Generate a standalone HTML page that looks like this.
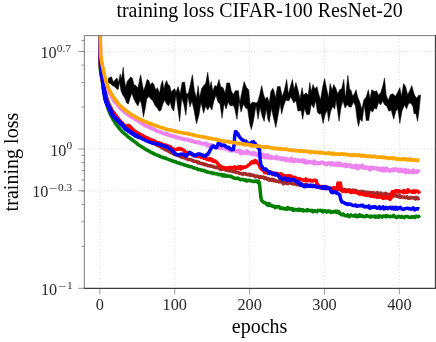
<!DOCTYPE html>
<html><head><meta charset="utf-8"><title>training loss</title><style>
html,body{margin:0;padding:0;background:#fff}
#w{position:relative;width:436px;height:342px;overflow:hidden;background:#fff;font-family:"Liberation Serif",serif;color:#2a2a2a}
.t{position:absolute;white-space:nowrap;line-height:1}
.xl{font-size:16.3px;transform:translateX(-50%);top:297px}
.yl{font-size:16.2px}
.yl sup{font-size:11.3px;vertical-align:baseline;position:relative;top:-6.2px;left:0px;margin-left:0.2px}
.yl sup i{font-style:normal;display:inline-block;transform:scaleX(1.3);margin:0 1.7px 0 1.5px;position:relative;top:0.9px}
#txt{position:absolute;left:0;top:0;width:436px;height:342px;will-change:transform;opacity:0.999}
</style></head><body><div id="w"><svg width="436" height="342" viewBox="0 0 436 342" style="position:absolute;left:0;top:0">
<defs><clipPath id="c"><rect x="84.3" y="35.6" width="351.09999999999997" height="252.79999999999998"/></clipPath></defs>
<path d="M99.90,35.6 V288.4 M174.77,35.6 V288.4 M249.64,35.6 V288.4 M324.51,35.6 V288.4 M399.38,35.6 V288.4 M84.3,51.49 H435.4 M84.3,149.00 H435.4 M84.3,190.79 H435.4" stroke="#c4c4c4" stroke-width="0.8" stroke-dasharray="0.8 2.53" fill="none"/>
<path d="M99.90,288.4 v6 M174.77,288.4 v6 M249.64,288.4 v6 M324.51,288.4 v6 M399.38,288.4 v6 M84.3,51.49 h-6 M84.3,149.00 h-6 M84.3,190.79 h-6 M84.3,288.30 h-6 M84.3,40.60 h-3 M84.3,51.63 h-3 M84.3,65.13 h-3 M84.3,82.54 h-3 M84.3,107.07 h-3 M84.3,155.37 h-3 M84.3,162.50 h-3 M84.3,170.58 h-3 M84.3,179.90 h-3 M84.3,190.93 h-3 M84.3,204.43 h-3 M84.3,221.84 h-3 M84.3,246.37 h-3" stroke="#808080" stroke-width="0.8" fill="none"/>
<g clip-path="url(#c)" fill="none" stroke-linejoin="round">
<path d="M108.28,78.42 L109.92,77.40 L111.35,76.78 L113.40,81.88 L115.44,79.44 L117.08,78.01 L118.51,82.74 L120.15,73.92 L121.58,78.65 L123.22,67.16 L124.24,78.42 L125.68,87.20 L127.11,81.49 L128.75,79.44 L130.79,76.78 L132.43,78.42 L133.86,84.56 L135.91,85.58 L137.96,88.02 L139.39,80.47 L140.62,74.74 L142.05,82.51 L143.48,90.68 L145.12,86.61 L147.17,79.44 L148.80,80.47 L150.24,84.95 L152.28,82.51 L153.92,84.56 L155.76,90.07 L157.40,87.63 L159.45,93.34 L161.08,84.56 L162.52,80.47 L163.95,89.25 L165.18,83.54 L166.61,80.47 L168.04,84.56 L169.68,85.58 L171.32,92.11 L173.36,89.68 L174.80,88.65 L176.00,92.41 L178.05,86.61 L180.09,93.96 L182.14,82.51 L184.60,82.10 L186.23,93.77 L188.28,93.55 L190.33,84.56 L192.37,74.74 L194.42,90.70 L196.47,98.05 L198.10,85.58 L199.54,97.64 L201.58,88.65 L203.63,85.58 L205.68,83.54 L207.72,72.28 L209.77,87.20 L211.20,81.49 L212.84,91.30 L214.89,85.58 L216.93,86.38 L218.98,79.44 L220.62,86.61 L223.07,87.63 L225.12,93.34 L226.76,82.92 L229.62,82.92 L231.26,90.70 L233.31,94.77 L235.35,90.70 L238.42,90.70 L239.86,102.35 L241.90,91.72 L244.15,81.49 L246.61,87.63 L248.66,89.68 L250.09,104.39 L252.75,101.96 L256.00,103.05 L257.64,101.96 L259.68,94.79 L261.73,85.58 L263.37,93.77 L265.21,99.28 L267.26,96.84 L269.30,102.55 L270.74,91.72 L272.78,88.24 L274.01,90.70 L275.44,98.05 L277.49,86.61 L280.15,86.61 L282.20,96.41 L284.24,90.70 L286.70,79.44 L288.34,93.96 L290.38,86.61 L292.43,79.44 L294.07,89.86 L295.91,82.51 L297.96,89.68 L300.00,98.66 L302.05,87.63 L303.48,95.18 L306.14,92.75 L308.19,95.18 L309.83,82.51 L311.26,91.91 L312.90,84.56 L314.94,89.04 L316.99,86.61 L318.42,92.75 L320.47,100.10 L322.52,87.63 L324.56,78.42 L326.61,88.65 L328.66,97.64 L330.09,83.54 L332.14,90.27 L333.77,84.56 L336.00,88.65 L337.64,93.75 L339.68,89.68 L341.73,88.65 L343.78,79.44 L345.41,98.25 L347.87,75.35 L349.51,88.65 L351.15,90.70 L352.78,96.21 L354.42,93.77 L356.06,89.68 L357.69,96.84 L359.74,101.96 L361.79,109.31 L363.83,99.91 L366.29,96.84 L368.34,89.68 L369.97,98.66 L371.82,89.68 L374.48,91.50 L376.52,90.70 L378.57,95.18 L380.62,92.75 L382.66,86.61 L384.51,78.01 L386.14,94.79 L388.19,100.51 L390.24,94.79 L392.90,93.77 L395.35,96.21 L397.40,92.75 L399.86,87.63 L401.49,96.62 L403.54,83.54 L405.59,86.61 L407.63,94.77 L409.68,90.70 L411.73,85.58 L413.77,92.75 L414.89,95.82 L416.93,98.25 L418.57,95.20 L420.62,95.20 L420.00,100.93 L418.98,111.17 L417.55,121.40 L415.91,113.44 L414.27,113.44 L414.18,114.24 L412.75,106.05 L410.70,103.20 L408.66,103.20 L406.61,109.12 L404.56,105.05 L401.90,111.17 L399.86,123.45 L397.81,108.73 L395.76,111.17 L393.72,119.35 L391.26,110.37 L388.80,111.17 L386.76,106.05 L384.71,105.03 L382.66,100.95 L380.62,105.03 L378.57,102.59 L376.52,109.12 L374.48,108.32 L372.43,112.19 L370.38,109.75 L368.75,120.38 L366.29,120.38 L364.24,104.84 L362.20,121.40 L360.15,118.96 L358.51,126.52 L357.08,119.35 L355.44,106.05 L353.40,101.98 L351.35,107.07 L349.30,107.07 L347.26,104.64 L345.01,108.10 L342.96,100.75 L340.91,108.10 L339.07,121.40 L337.64,111.17 L336.00,100.13 L334.80,109.12 L332.75,106.68 L330.70,111.17 L328.66,121.40 L327.22,110.16 L325.18,114.24 L323.13,123.45 L321.08,113.44 L319.45,114.24 L317.40,112.19 L315.76,100.75 L313.72,108.10 L311.26,104.02 L309.62,114.24 L306.76,114.85 L304.71,108.16 L302.66,119.35 L301.03,110.37 L297.96,111.17 L295.91,100.54 L293.86,102.98 L290.79,96.86 L288.75,100.93 L285.68,100.13 L283.63,106.05 L281.58,114.24 L280.15,103.61 L278.10,115.26 L275.85,127.54 L273.40,117.31 L271.35,108.32 L269.30,122.42 L267.87,119.35 L266.23,108.73 L264.19,121.40 L262.14,116.28 L260.09,107.30 L258.05,119.35 L256.00,105.45 L253.36,121.40 L251.32,129.59 L249.68,123.45 L247.63,109.12 L245.59,108.10 L243.54,104.02 L241.08,112.19 L239.04,101.57 L236.99,119.35 L234.33,107.07 L232.28,105.25 L230.24,106.05 L228.19,101.98 L226.14,109.12 L224.10,103.41 L222.05,118.33 L220.00,104.00 L217.96,101.96 L215.91,95.22 L213.86,100.93 L211.82,110.14 L209.77,106.07 L207.72,110.14 L205.68,106.07 L203.63,113.21 L200.97,102.59 L198.92,115.26 L196.47,123.86 L194.01,110.14 L191.96,101.36 L189.92,107.07 L187.87,96.00 L185.82,115.26 L183.78,104.00 L181.73,98.29 L179.68,121.40 L177.64,107.07 L176.00,94.81 L173.77,111.17 L171.73,108.10 L170.09,101.98 L168.66,106.05 L166.61,104.00 L164.56,99.93 L162.52,105.03 L161.08,110.14 L159.04,111.17 L157.40,108.10 L155.35,106.05 L152.90,100.93 L150.85,98.89 L148.80,96.45 L146.76,98.89 L145.12,109.12 L143.48,116.90 L141.44,104.00 L140.00,99.93 L137.96,106.05 L135.91,102.98 L133.86,98.89 L131.82,93.17 L129.77,98.89 L128.34,104.00 L126.70,102.98 L124.65,97.86 L122.61,94.79 L120.97,90.70 L119.54,82.33 L118.10,89.68 L116.47,88.65 L114.42,86.61 L112.37,85.58 L110.33,83.54 L108.28,82.51Z" fill="#000" stroke="#000" stroke-width="0.5" stroke-linejoin="miter"/>
<path d="M99.60,30.20 L100.35,69.56 L101.10,75.16 L101.85,78.90 L102.60,83.81 L103.35,88.52 L104.10,92.74 L104.85,96.57 L105.60,100.00 L106.35,102.82 L107.10,105.34 L107.85,107.94 L108.60,110.07 L109.35,112.09 L110.10,113.66 L110.85,115.22 L111.60,116.70 L112.35,117.98 L113.10,119.59 L113.85,120.61 L114.60,121.79 L115.35,123.03 L116.10,124.31 L116.85,125.22 L117.60,126.10 L118.35,127.12 L119.10,128.21 L119.85,129.03 L120.60,129.83 L121.35,130.71 L122.10,131.59 L122.85,132.46 L123.60,132.79 L124.35,133.53 L125.10,134.15 L125.85,134.61 L126.60,135.41 L127.35,136.03 L128.10,136.90 L128.85,137.37 L129.60,137.80 L130.35,138.65 L131.10,139.12 L131.85,139.54 L132.60,140.24 L133.35,140.80 L134.10,141.32 L134.85,141.97 L135.60,142.26 L136.35,143.02 L137.10,143.72 L137.85,144.25 L138.60,144.83 L139.35,145.37 L140.10,145.93 L140.85,146.15 L141.60,146.85 L142.35,147.02 L143.10,147.64 L143.85,147.95 L144.60,148.74 L145.35,149.22 L146.10,149.49 L146.85,150.14 L147.60,150.29 L148.35,150.80 L149.10,151.21 L149.85,151.47 L150.60,152.04 L151.35,152.62 L152.10,152.62 L152.85,153.24 L153.60,153.47 L154.35,154.08 L155.10,154.26 L155.85,154.64 L156.60,154.97 L157.35,155.25 L158.10,155.35 L158.85,156.07 L159.60,155.98 L160.35,156.53 L161.10,156.89 L161.85,156.97 L162.60,157.41 L163.35,157.86 L164.10,157.94 L164.85,158.07 L165.60,158.00 L166.35,158.58 L167.10,158.90 L167.85,159.17 L168.60,159.35 L169.35,159.84 L170.10,159.93 L170.85,160.27 L171.60,160.68 L172.35,160.65 L173.10,161.01 L173.85,161.74 L174.60,161.75 L175.35,161.59 L176.10,162.08 L176.85,162.46 L177.60,162.85 L178.35,162.89 L179.10,163.00 L179.85,163.21 L180.60,163.75 L181.35,163.93 L182.10,164.00 L182.85,164.31 L183.60,164.51 L184.35,165.01 L185.10,164.93 L185.85,165.44 L186.60,165.77 L187.35,165.92 L188.10,165.85 L188.85,166.60 L189.60,166.36 L190.35,166.86 L191.10,166.80 L191.85,166.79 L192.60,167.51 L193.35,167.75 L194.10,167.90 L194.85,168.22 L195.60,168.21 L196.35,168.42 L197.10,168.80 L197.85,169.57 L198.60,169.51 L199.35,169.38 L200.10,169.90 L200.85,169.84 L201.60,170.07 L202.35,170.65 L203.10,170.48 L203.85,170.37 L204.60,170.80 L205.35,171.29 L206.10,171.50 L206.85,172.03 L207.60,171.66 L208.35,172.28 L209.10,172.38 L209.85,172.40 L210.60,172.88 L211.35,172.96 L212.10,172.72 L212.85,173.48 L213.60,172.93 L214.35,173.49 L215.10,173.63 L215.85,173.91 L216.60,173.69 L217.35,174.06 L218.10,174.17 L218.85,174.68 L219.60,174.23 L220.35,174.66 L221.10,174.69 L221.85,174.48 L222.60,175.96 L223.35,175.17 L224.10,174.83 L224.85,175.97 L225.60,175.26 L226.35,175.91 L227.10,176.24 L227.85,175.86 L228.60,176.10 L229.35,176.22 L230.10,176.54 L230.85,176.18 L231.60,176.50 L232.35,177.10 L233.10,177.76 L233.85,177.85 L234.60,178.50 L235.35,178.37 L236.10,178.16 L236.85,178.55 L237.60,178.04 L238.35,178.66 L239.10,178.82 L239.85,179.48 L240.60,179.76 L241.35,179.40 L242.10,179.50 L242.85,179.22 L243.60,179.88 L244.35,180.12 L245.10,180.29 L245.85,179.87 L246.60,181.09 L247.35,180.85 L248.10,180.40 L248.85,180.31 L249.60,180.49 L250.35,180.78 L251.10,180.79 L251.85,181.07 L252.60,181.24 L253.35,181.54 L254.10,181.50 L254.85,181.01 L255.60,181.29 L256.35,181.04 L257.10,181.06 L257.85,182.32 L258.60,181.46 L259.35,182.80 L260.10,189.45 L260.85,197.05 L261.60,200.47 L262.35,201.10 L263.10,202.01 L263.85,202.25 L264.60,202.59 L265.35,203.15 L266.10,203.32 L266.85,204.69 L267.60,204.19 L268.35,205.33 L269.10,203.60 L269.85,205.05 L270.60,205.52 L271.35,205.35 L272.10,206.18 L272.85,206.17 L273.60,205.94 L274.35,206.43 L275.10,207.67 L275.85,206.67 L276.60,206.85 L277.35,206.66 L278.10,207.06 L278.85,206.56 L279.60,207.18 L280.35,208.51 L281.10,208.01 L281.85,207.95 L282.60,208.28 L283.35,208.76 L284.10,208.30 L284.85,209.08 L285.60,208.74 L286.35,208.44 L287.10,209.25 L287.85,207.51 L288.60,208.42 L289.35,208.89 L290.10,208.46 L290.85,208.89 L291.60,208.76 L292.35,208.84 L293.10,210.44 L293.85,209.58 L294.60,209.36 L295.35,210.05 L296.10,209.43 L296.85,210.01 L297.60,209.84 L298.35,210.48 L299.10,209.18 L299.85,210.22 L300.60,209.99 L301.35,209.48 L302.10,210.53 L302.85,209.71 L303.60,210.88 L304.35,210.43 L305.10,210.56 L305.85,210.33 L306.60,210.74 L307.35,209.53 L308.10,210.45 L308.85,210.17 L309.60,210.62 L310.35,210.51 L311.10,210.85 L311.85,210.24 L312.60,211.48 L313.35,211.73 L314.10,210.63 L314.85,210.75 L315.60,210.92 L316.35,211.39 L317.10,211.71 L317.85,210.35 L318.60,210.65 L319.35,210.49 L320.10,210.50 L320.85,210.31 L321.60,211.26 L322.35,210.62 L323.10,211.86 L323.85,211.64 L324.60,210.82 L325.35,210.87 L326.10,211.11 L326.85,212.07 L327.60,211.11 L328.35,210.88 L329.10,211.58 L329.85,211.82 L330.60,211.41 L331.35,212.48 L332.10,211.90 L332.85,212.04 L333.60,211.49 L334.35,211.89 L335.10,211.88 L335.85,210.98 L336.60,212.19 L337.35,211.33 L338.10,212.21 L338.85,211.67 L339.60,213.59 L340.35,213.41 L341.10,214.31 L341.85,214.92 L342.60,214.28 L343.35,214.00 L344.10,215.01 L344.85,215.68 L345.60,215.41 L346.35,215.81 L347.10,215.96 L347.85,214.93 L348.60,215.79 L349.35,216.60 L350.10,215.50 L350.85,214.88 L351.60,215.73 L352.35,215.66 L353.10,216.09 L353.85,215.54 L354.60,216.01 L355.35,215.00 L356.10,216.41 L356.85,216.77 L357.60,216.66 L358.35,215.42 L359.10,216.27 L359.85,214.81 L360.60,216.30 L361.35,216.17 L362.10,215.77 L362.85,216.39 L363.60,216.31 L364.35,216.69 L365.10,216.34 L365.85,216.41 L366.60,215.44 L367.35,215.81 L368.10,216.13 L368.85,216.49 L369.60,216.37 L370.35,217.06 L371.10,216.00 L371.85,216.30 L372.60,216.53 L373.35,216.32 L374.10,216.66 L374.85,216.19 L375.60,217.10 L376.35,216.32 L377.10,216.98 L377.85,216.47 L378.60,217.16 L379.35,215.87 L380.10,216.74 L380.85,216.32 L381.60,216.62 L382.35,217.06 L383.10,216.02 L383.85,215.94 L384.60,216.10 L385.35,216.67 L386.10,215.71 L386.85,216.61 L387.60,215.99 L388.35,216.07 L389.10,216.42 L389.85,216.77 L390.60,216.33 L391.35,216.39 L392.10,216.61 L392.85,216.51 L393.60,215.44 L394.35,216.46 L395.10,216.70 L395.85,217.16 L396.60,217.60 L397.35,216.99 L398.10,216.73 L398.85,216.27 L399.60,216.76 L400.35,217.08 L401.10,217.31 L401.85,216.35 L402.60,216.86 L403.35,217.13 L404.10,217.61 L404.85,216.90 L405.60,216.55 L406.35,216.50 L407.10,216.66 L407.85,216.53 L408.60,217.21 L409.35,217.33 L410.10,217.18 L410.85,217.41 L411.60,216.68 L412.35,217.06 L413.10,216.73 L413.85,216.93 L414.60,217.47 L415.35,216.92 L416.10,216.10 L416.85,216.84 L417.60,216.65 L418.35,216.30 L419.10,216.63 L419.85,217.43" stroke="#008000" stroke-width="3.5"/>
<path d="M99.70,30.19 L100.45,63.28 L101.20,70.11 L101.95,75.25 L102.70,79.30 L103.45,83.70 L104.20,87.72 L104.95,91.14 L105.70,93.84 L106.45,96.58 L107.20,99.07 L107.95,101.18 L108.70,103.17 L109.45,104.71 L110.20,106.63 L110.95,108.04 L111.70,109.26 L112.45,110.85 L113.20,111.95 L113.95,113.17 L114.70,114.17 L115.45,115.37 L116.20,116.32 L116.95,117.34 L117.70,118.53 L118.45,119.47 L119.20,120.34 L119.95,121.38 L120.70,121.95 L121.45,122.62 L122.20,123.29 L122.95,123.80 L123.70,124.48 L124.45,125.31 L125.20,125.54 L125.95,126.18 L126.70,126.56 L127.45,127.09 L128.20,127.79 L128.95,128.17 L129.70,128.44 L130.45,128.96 L131.20,129.33 L131.95,129.81 L132.70,130.29 L133.45,130.79 L134.20,131.43 L134.95,131.97 L135.70,132.46 L136.45,132.88 L137.20,133.24 L137.95,133.89 L138.70,134.29 L139.45,134.98 L140.20,135.43 L140.95,135.93 L141.70,136.27 L142.45,136.57 L143.20,137.34 L143.95,137.82 L144.70,137.96 L145.45,138.59 L146.20,139.15 L146.95,139.34 L147.70,140.09 L148.45,140.28 L149.20,140.63 L149.95,141.34 L150.70,141.64 L151.45,141.95 L152.20,142.56 L152.95,142.61 L153.70,143.51 L154.45,143.57 L155.20,144.12 L155.95,144.43 L156.70,144.95 L157.45,145.41 L158.20,145.57 L158.95,146.20 L159.70,146.44 L160.45,146.78 L161.20,147.25 L161.95,147.53 L162.70,147.97 L163.45,148.67 L164.20,148.91 L164.95,149.54 L165.70,149.85 L166.45,150.01 L167.20,150.27 L167.95,150.87 L168.70,151.42 L169.45,151.74 L170.20,151.94 L170.95,152.62 L171.70,152.45 L172.45,152.87 L173.20,153.46 L173.95,154.18 L174.70,154.16 L175.45,154.19 L176.20,154.82 L176.95,155.15 L177.70,155.50 L178.45,155.53 L179.20,155.74 L179.95,156.22 L180.70,156.58 L181.45,157.12 L182.20,157.51 L182.95,157.17 L183.70,157.50 L184.45,157.87 L185.20,158.10 L185.95,158.53 L186.70,158.80 L187.45,159.01 L188.20,159.53 L188.95,159.43 L189.70,159.48 L190.45,159.61 L191.20,159.99 L191.95,160.23 L192.70,160.27 L193.45,161.15 L194.20,161.27 L194.95,161.36 L195.70,161.48 L196.45,161.53 L197.20,161.94 L197.95,162.90 L198.70,162.05 L199.45,162.91 L200.20,163.30 L200.95,163.36 L201.70,163.45 L202.45,163.97 L203.20,163.67 L203.95,164.35 L204.70,164.81 L205.45,164.32 L206.20,164.59 L206.95,165.08 L207.70,165.53 L208.45,165.84 L209.20,165.85 L209.95,165.65 L210.70,165.71 L211.45,166.32 L212.20,166.56 L212.95,166.29 L213.70,166.83 L214.45,167.10 L215.20,167.50 L215.95,167.04 L216.70,167.71 L217.45,167.33 L218.20,167.74 L218.95,168.02 L219.70,168.72 L220.45,169.48 L221.20,168.64 L221.95,168.89 L222.70,169.23 L223.45,168.59 L224.20,169.49 L224.95,168.97 L225.70,170.13 L226.45,170.24 L227.20,170.08 L227.95,169.79 L228.70,170.85 L229.45,170.52 L230.20,170.65 L230.95,171.00 L231.70,170.35 L232.45,171.32 L233.20,171.73 L233.95,171.69 L234.70,171.83 L235.45,171.62 L236.20,172.42 L236.95,172.45 L237.70,172.57 L238.45,172.54 L239.20,173.26 L239.95,173.58 L240.70,173.39 L241.45,173.73 L242.20,174.04 L242.95,174.27 L243.70,173.85 L244.45,173.79 L245.20,173.83 L245.95,174.12 L246.70,174.45 L247.45,174.74 L248.20,174.30 L248.95,174.67 L249.70,174.32 L250.45,175.42 L251.20,174.88 L251.95,175.36 L252.70,175.06 L253.45,175.41 L254.20,175.42 L254.95,176.63 L255.70,176.22 L256.45,176.17 L257.20,176.01 L257.95,176.34 L258.70,177.04 L259.45,177.71 L260.20,176.49 L260.95,176.89 L261.70,177.39 L262.45,177.36 L263.20,177.07 L263.95,178.00 L264.70,178.50 L265.45,177.63 L266.20,178.61 L266.95,179.12 L267.70,179.30 L268.45,178.85 L269.20,180.25 L269.95,179.63 L270.70,179.19 L271.45,180.17 L272.20,179.39 L272.95,180.47 L273.70,179.66 L274.45,180.75 L275.20,180.30 L275.95,181.23 L276.70,181.21 L277.45,181.23 L278.20,181.21 L278.95,181.82 L279.70,180.66 L280.45,181.81 L281.20,181.94 L281.95,182.14 L282.70,182.40 L283.45,183.82 L284.20,182.34 L284.95,182.78 L285.70,182.61 L286.45,183.37 L287.20,181.88 L287.95,183.68 L288.70,182.72 L289.45,182.13 L290.20,182.78 L290.95,183.30 L291.70,183.58 L292.45,183.59 L293.20,184.09 L293.95,183.81 L294.70,183.91 L295.45,183.08 L296.20,184.37 L296.95,184.71 L297.70,184.17 L298.45,183.61 L299.20,183.95 L299.95,185.40 L300.70,184.47 L301.45,184.54 L302.20,184.57 L302.95,185.33 L303.70,184.85 L304.45,184.82 L305.20,184.62 L305.95,185.33 L306.70,185.92 L307.45,185.49 L308.20,186.04 L308.95,185.81 L309.70,185.88 L310.45,185.98 L311.20,186.00 L311.95,186.53 L312.70,186.37 L313.45,185.98 L314.20,186.38 L314.95,186.37 L315.70,186.71 L316.45,186.66 L317.20,186.85 L317.95,186.09 L318.70,187.01 L319.45,187.52 L320.20,186.42 L320.95,187.84 L321.70,187.34 L322.45,187.21 L323.20,186.59 L323.95,187.98 L324.70,187.15 L325.45,187.46 L326.20,188.03 L326.95,187.42 L327.70,187.54 L328.45,187.56 L329.20,188.12 L329.95,188.54 L330.70,188.55 L331.45,188.65 L332.20,188.41 L332.95,188.72 L333.70,188.44 L334.45,189.74 L335.20,189.02 L335.95,188.15 L336.70,188.64 L337.45,189.93 L338.20,188.68 L338.95,189.19 L339.70,189.65 L340.45,189.06 L341.20,190.11 L341.95,190.47 L342.70,189.42 L343.45,190.37 L344.20,189.54 L344.95,189.57 L345.70,190.20 L346.45,190.27 L347.20,189.97 L347.95,190.68 L348.70,189.72 L349.45,190.06 L350.20,190.03 L350.95,190.93 L351.70,191.02 L352.45,191.03 L353.20,190.22 L353.95,190.93 L354.70,191.15 L355.45,190.29 L356.20,190.72 L356.95,191.45 L357.70,191.55 L358.45,191.43 L359.20,191.63 L359.95,191.61 L360.70,191.61 L361.45,191.58 L362.20,191.32 L362.95,191.69 L363.70,191.70 L364.45,193.02 L365.20,192.18 L365.95,192.15 L366.70,192.14 L367.45,192.28 L368.20,192.30 L368.95,192.76 L369.70,192.59 L370.45,193.06 L371.20,192.46 L371.95,193.02 L372.70,193.34 L373.45,192.51 L374.20,193.19 L374.95,193.31 L375.70,193.13 L376.45,193.15 L377.20,192.61 L377.95,194.04 L378.70,193.19 L379.45,193.13 L380.20,194.06 L380.95,193.01 L381.70,194.34 L382.45,194.17 L383.20,194.31 L383.95,194.02 L384.70,193.60 L385.45,193.36 L386.20,194.92 L386.95,194.11 L387.70,194.15 L388.45,195.16 L389.20,194.23 L389.95,194.49 L390.70,194.58 L391.45,194.74 L392.20,194.49 L392.95,194.89 L393.70,195.93 L394.45,195.90 L395.20,194.41 L395.95,195.05 L396.70,196.22 L397.45,196.13 L398.20,196.12 L398.95,196.86 L399.70,195.69 L400.45,197.14 L401.20,196.76 L401.95,197.04 L402.70,197.01 L403.45,197.37 L404.20,196.97 L404.95,196.93 L405.70,197.62 L406.45,197.43 L407.20,196.87 L407.95,198.12 L408.70,198.13 L409.45,198.31 L410.20,197.77 L410.95,197.95 L411.70,197.69 L412.45,197.48 L413.20,198.00 L413.95,198.09 L414.70,197.76 L415.45,198.92 L416.20,197.40 L416.95,197.79 L417.70,197.87 L418.45,198.77 L419.20,198.08" stroke="#a52a2a" stroke-width="3.5"/>
<path d="M99.65,29.95 L100.40,67.09 L101.15,73.33 L101.90,77.55 L102.65,82.28 L103.40,86.70 L104.15,90.97 L104.90,94.92 L105.65,99.08 L106.40,101.09 L107.15,103.02 L107.90,105.11 L108.65,106.77 L109.40,108.25 L110.15,109.20 L110.90,110.49 L111.65,111.55 L112.40,111.93 L113.15,112.64 L113.90,113.17 L114.65,114.15 L115.40,115.02 L116.15,115.88 L116.90,116.85 L117.65,117.94 L118.40,118.76 L119.15,119.86 L119.90,120.49 L120.65,121.34 L121.40,122.35 L122.15,123.08 L122.90,124.17 L123.65,125.09 L124.40,125.60 L125.15,125.89 L125.90,126.08 L126.65,126.33 L127.40,125.80 L128.15,125.71 L128.90,125.56 L129.65,125.98 L130.40,127.02 L131.15,127.79 L131.90,128.48 L132.65,129.53 L133.40,129.92 L134.15,130.54 L134.90,130.95 L135.65,131.58 L136.40,132.16 L137.15,132.67 L137.90,132.90 L138.65,133.36 L139.40,133.93 L140.15,134.34 L140.90,134.82 L141.65,135.04 L142.40,135.19 L143.15,136.00 L143.90,136.43 L144.65,136.78 L145.40,137.30 L146.15,137.53 L146.90,137.70 L147.65,138.25 L148.40,138.43 L149.15,138.98 L149.90,139.16 L150.65,139.54 L151.40,139.84 L152.15,140.15 L152.90,140.22 L153.65,140.82 L154.40,140.74 L155.15,141.57 L155.90,141.99 L156.65,142.52 L157.40,142.52 L158.15,142.63 L158.90,142.76 L159.65,143.76 L160.40,143.37 L161.15,144.12 L161.90,143.73 L162.65,144.43 L163.40,144.81 L164.15,144.94 L164.90,145.06 L165.65,145.08 L166.40,145.26 L167.15,145.90 L167.90,146.00 L168.65,146.12 L169.40,146.49 L170.15,146.55 L170.90,147.55 L171.65,148.30 L172.40,148.49 L173.15,149.26 L173.90,149.76 L174.65,149.31 L175.40,149.93 L176.15,149.68 L176.90,149.06 L177.65,149.26 L178.40,149.32 L179.15,148.42 L179.90,148.88 L180.65,148.71 L181.40,148.95 L182.15,149.66 L182.90,149.87 L183.65,150.20 L184.40,150.76 L185.15,151.66 L185.90,152.23 L186.65,152.38 L187.40,152.66 L188.15,153.01 L188.90,153.72 L189.65,153.76 L190.40,153.63 L191.15,154.03 L191.90,154.76 L192.65,154.41 L193.40,154.70 L194.15,155.04 L194.90,154.91 L195.65,155.79 L196.40,154.93 L197.15,156.40 L197.90,155.95 L198.65,155.86 L199.40,156.62 L200.15,156.12 L200.90,157.16 L201.65,157.47 L202.40,157.21 L203.15,157.51 L203.90,158.25 L204.65,157.87 L205.40,158.37 L206.15,158.73 L206.90,159.44 L207.65,158.87 L208.40,159.30 L209.15,159.96 L209.90,158.70 L210.65,159.82 L211.40,159.35 L212.15,159.53 L212.90,161.23 L213.65,160.68 L214.40,161.41 L215.15,160.97 L215.90,161.84 L216.65,162.23 L217.40,163.10 L218.15,164.19 L218.90,165.01 L219.65,166.15 L220.40,165.92 L221.15,166.69 L221.90,166.89 L222.65,167.49 L223.40,167.19 L224.15,168.54 L224.90,167.94 L225.65,168.21 L226.40,168.01 L227.15,168.44 L227.90,168.06 L228.65,167.63 L229.40,167.54 L230.15,167.47 L230.90,167.58 L231.65,167.45 L232.40,167.86 L233.15,168.08 L233.90,167.67 L234.65,166.80 L235.40,168.43 L236.15,168.75 L236.90,167.58 L237.65,167.64 L238.40,166.87 L239.15,168.38 L239.90,167.48 L240.65,168.94 L241.40,166.63 L242.15,167.87 L242.90,168.07 L243.65,167.34 L244.40,166.95 L245.15,167.31 L245.90,166.67 L246.65,166.48 L247.40,166.16 L248.15,165.25 L248.90,164.74 L249.65,164.61 L250.40,163.30 L251.15,162.81 L251.90,161.78 L252.65,162.72 L253.40,161.47 L254.15,162.77 L254.90,160.48 L255.65,161.72 L256.40,161.34 L257.15,162.93 L257.90,163.32 L258.65,163.79 L259.40,165.56 L260.15,167.82 L260.90,168.13 L261.65,169.52 L262.40,169.02 L263.15,169.50 L263.90,171.17 L264.65,172.58 L265.40,171.21 L266.15,172.18 L266.90,171.53 L267.65,173.08 L268.40,172.28 L269.15,172.50 L269.90,171.82 L270.65,172.90 L271.40,173.43 L272.15,174.31 L272.90,172.93 L273.65,174.37 L274.40,173.71 L275.15,173.87 L275.90,173.60 L276.65,173.27 L277.40,173.69 L278.15,175.52 L278.90,173.96 L279.65,174.55 L280.40,175.60 L281.15,173.79 L281.90,175.44 L282.65,174.99 L283.40,175.52 L284.15,176.05 L284.90,175.56 L285.65,175.65 L286.40,176.32 L287.15,176.39 L287.90,175.71 L288.65,176.16 L289.40,175.60 L290.15,177.33 L290.90,175.98 L291.65,176.98 L292.40,178.10 L293.15,177.74 L293.90,177.30 L294.65,177.26 L295.40,177.56 L296.15,178.72 L296.90,178.61 L297.65,178.64 L298.40,180.43 L299.15,178.57 L299.90,178.97 L300.65,179.21 L301.40,179.71 L302.15,179.90 L302.90,179.68 L303.65,180.42 L304.40,180.44 L305.15,180.06 L305.90,178.89 L306.65,180.95 L307.40,180.00 L308.15,180.27 L308.90,180.65 L309.65,180.05 L310.40,180.35 L311.15,180.90 L311.90,180.65 L312.65,181.02 L313.40,180.27 L314.15,180.60 L314.90,180.06 L315.65,180.49 L316.40,180.82 L317.15,184.50 L317.90,184.73 L318.65,185.93 L319.40,186.49 L320.15,187.35 L320.90,186.85 L321.65,186.78 L322.40,186.45 L323.15,188.46 L323.90,186.81 L324.65,186.84 L325.40,187.56 L326.15,186.69 L326.90,188.56 L327.65,188.15 L328.40,188.45 L329.15,187.69 L329.90,188.08 L330.65,189.01 L331.40,189.13 L332.15,190.38 L332.90,189.41 L333.65,187.68 L334.40,188.92 L335.15,188.70 L335.90,189.60 L336.65,188.91 L337.40,187.07 L338.15,183.02 L338.90,183.39 L339.65,184.22 L340.40,183.02 L341.15,188.46 L341.90,189.49 L342.65,191.36 L343.40,190.80 L344.15,190.68 L344.90,190.43 L345.65,191.76 L346.40,191.39 L347.15,191.23 L347.90,191.04 L348.65,191.35 L349.40,191.33 L350.15,191.98 L350.90,192.53 L351.65,190.75 L352.40,191.21 L353.15,192.17 L353.90,192.43 L354.65,191.61 L355.40,192.32 L356.15,192.60 L356.90,192.73 L357.65,192.87 L358.40,193.25 L359.15,193.99 L359.90,194.05 L360.65,194.11 L361.40,194.07 L362.15,193.63 L362.90,193.92 L363.65,194.78 L364.40,194.59 L365.15,195.16 L365.90,194.99 L366.65,195.02 L367.40,195.40 L368.15,194.36 L368.90,195.33 L369.65,195.21 L370.40,196.21 L371.15,195.42 L371.90,196.09 L372.65,195.81 L373.40,196.46 L374.15,196.72 L374.90,196.27 L375.65,196.57 L376.40,196.71 L377.15,197.17 L377.90,196.61 L378.65,196.93 L379.40,196.74 L380.15,196.51 L380.90,197.28 L381.65,197.52 L382.40,196.87 L383.15,198.40 L383.90,197.10 L384.65,198.10 L385.40,197.98 L386.15,196.83 L386.90,197.93 L387.65,197.08 L388.40,198.03 L389.15,198.57 L389.90,199.32 L390.65,198.71 L391.40,197.34 L392.15,191.73 L392.90,192.63 L393.65,191.68 L394.40,192.53 L395.15,190.96 L395.90,191.03 L396.65,190.54 L397.40,191.12 L398.15,192.11 L398.90,190.79 L399.65,191.86 L400.40,191.63 L401.15,191.83 L401.90,191.21 L402.65,191.39 L403.40,192.66 L404.15,190.64 L404.90,191.86 L405.65,192.34 L406.40,191.72 L407.15,192.46 L407.90,189.71 L408.65,191.34 L409.40,190.85 L410.15,191.35 L410.90,191.58 L411.65,191.98 L412.40,191.23 L413.15,192.33 L413.90,190.92 L414.65,192.52 L415.40,191.87 L416.15,191.04 L416.90,191.13 L417.65,191.22 L418.40,191.80 L419.15,192.58 L419.90,193.43" stroke="#ff0000" stroke-width="3.5"/>
<path d="M336.4,182.2 H341.9 V190.5 H336.4 Z" fill="#ff0000" stroke="none"/>
<path d="M99.90,30.12 L100.65,55.91 L101.40,60.98 L102.15,65.71 L102.90,69.23 L103.65,73.17 L104.40,76.59 L105.15,80.24 L105.90,82.15 L106.65,84.95 L107.40,87.43 L108.15,89.04 L108.90,90.79 L109.65,92.93 L110.40,93.88 L111.15,95.46 L111.90,96.96 L112.65,98.57 L113.40,99.85 L114.15,100.81 L114.90,102.24 L115.65,102.75 L116.40,103.66 L117.15,104.44 L117.90,105.53 L118.65,106.15 L119.40,106.91 L120.15,108.10 L120.90,108.83 L121.65,109.56 L122.40,109.90 L123.15,110.63 L123.90,111.43 L124.65,112.06 L125.40,112.64 L126.15,113.26 L126.90,113.98 L127.65,114.23 L128.40,114.98 L129.15,115.37 L129.90,115.84 L130.65,116.35 L131.40,116.99 L132.15,117.37 L132.90,117.63 L133.65,118.27 L134.40,118.68 L135.15,119.18 L135.90,119.52 L136.65,120.21 L137.40,120.58 L138.15,120.81 L138.90,121.29 L139.65,121.77 L140.40,122.58 L141.15,122.86 L141.90,123.38 L142.65,123.85 L143.40,124.50 L144.15,125.08 L144.90,125.07 L145.65,125.83 L146.40,125.96 L147.15,126.46 L147.90,126.57 L148.65,126.76 L149.40,127.43 L150.15,127.94 L150.90,127.75 L151.65,128.38 L152.40,128.78 L153.15,129.20 L153.90,129.19 L154.65,129.63 L155.40,130.27 L156.15,130.79 L156.90,130.74 L157.65,131.25 L158.40,131.38 L159.15,131.74 L159.90,131.85 L160.65,132.18 L161.40,132.38 L162.15,132.83 L162.90,133.36 L163.65,133.41 L164.40,133.81 L165.15,133.74 L165.90,134.36 L166.65,133.59 L167.40,134.30 L168.15,134.83 L168.90,134.66 L169.65,135.55 L170.40,135.67 L171.15,135.57 L171.90,136.07 L172.65,135.81 L173.40,136.19 L174.15,136.54 L174.90,136.36 L175.65,137.36 L176.40,137.03 L177.15,137.74 L177.90,137.56 L178.65,137.88 L179.40,137.67 L180.15,138.04 L180.90,138.18 L181.65,138.58 L182.40,139.14 L183.15,138.65 L183.90,138.97 L184.65,139.32 L185.40,139.68 L186.15,139.51 L186.90,139.59 L187.65,139.69 L188.40,140.09 L189.15,140.36 L189.90,140.19 L190.65,140.52 L191.40,141.11 L192.15,141.00 L192.90,140.98 L193.65,141.67 L194.40,141.87 L195.15,142.03 L195.90,142.25 L196.65,142.01 L197.40,142.45 L198.15,142.69 L198.90,142.81 L199.65,142.21 L200.40,143.13 L201.15,143.48 L201.90,143.74 L202.65,143.59 L203.40,143.92 L204.15,143.30 L204.90,143.62 L205.65,143.14 L206.40,144.55 L207.15,145.57 L207.90,145.81 L208.65,144.67 L209.40,145.66 L210.15,146.12 L210.90,145.56 L211.65,144.93 L212.40,146.71 L213.15,146.02 L213.90,146.16 L214.65,147.35 L215.40,146.90 L216.15,147.24 L216.90,147.78 L217.65,147.06 L218.40,146.79 L219.15,147.84 L219.90,147.59 L220.65,148.13 L221.40,148.10 L222.15,147.64 L222.90,148.20 L223.65,148.16 L224.40,148.35 L225.15,148.60 L225.90,148.96 L226.65,149.03 L227.40,148.36 L228.15,149.55 L228.90,148.55 L229.65,150.73 L230.40,149.20 L231.15,149.74 L231.90,150.68 L232.65,149.95 L233.40,149.47 L234.15,149.51 L234.90,150.64 L235.65,150.86 L236.40,151.24 L237.15,151.04 L237.90,150.73 L238.65,151.43 L239.40,152.15 L240.15,150.93 L240.90,153.74 L241.65,151.43 L242.40,152.59 L243.15,153.13 L243.90,152.66 L244.65,152.41 L245.40,152.82 L246.15,153.35 L246.90,150.95 L247.65,153.07 L248.40,152.66 L249.15,152.61 L249.90,153.28 L250.65,153.47 L251.40,153.84 L252.15,153.28 L252.90,154.58 L253.65,152.58 L254.40,153.49 L255.15,153.48 L255.90,154.54 L256.65,154.29 L257.40,155.15 L258.15,154.40 L258.90,155.99 L259.65,155.76 L260.40,155.02 L261.15,154.34 L261.90,154.82 L262.65,154.71 L263.40,156.80 L264.15,156.59 L264.90,155.30 L265.65,157.64 L266.40,156.24 L267.15,155.00 L267.90,157.47 L268.65,157.75 L269.40,156.96 L270.15,156.45 L270.90,158.07 L271.65,156.97 L272.40,157.43 L273.15,157.89 L273.90,157.89 L274.65,157.47 L275.40,157.17 L276.15,158.54 L276.90,156.58 L277.65,158.47 L278.40,158.54 L279.15,158.82 L279.90,158.30 L280.65,158.82 L281.40,159.33 L282.15,158.14 L282.90,159.01 L283.65,159.34 L284.40,158.29 L285.15,158.61 L285.90,160.48 L286.65,160.20 L287.40,159.05 L288.15,160.17 L288.90,160.04 L289.65,160.83 L290.40,160.74 L291.15,158.33 L291.90,159.91 L292.65,161.18 L293.40,161.45 L294.15,159.96 L294.90,159.61 L295.65,160.74 L296.40,160.20 L297.15,160.72 L297.90,160.00 L298.65,161.44 L299.40,161.39 L300.15,161.39 L300.90,160.38 L301.65,160.05 L302.40,160.41 L303.15,161.74 L303.90,160.21 L304.65,162.01 L305.40,162.87 L306.15,161.26 L306.90,161.65 L307.65,162.54 L308.40,162.57 L309.15,161.57 L309.90,161.96 L310.65,162.24 L311.40,162.04 L312.15,162.70 L312.90,162.60 L313.65,163.36 L314.40,161.31 L315.15,163.41 L315.90,163.22 L316.65,162.62 L317.40,163.07 L318.15,163.53 L318.90,163.12 L319.65,162.80 L320.40,163.24 L321.15,162.61 L321.90,162.24 L322.65,162.60 L323.40,162.73 L324.15,163.46 L324.90,163.94 L325.65,163.61 L326.40,164.51 L327.15,163.48 L327.90,163.15 L328.65,163.15 L329.40,163.09 L330.15,163.57 L330.90,164.81 L331.65,162.88 L332.40,164.36 L333.15,164.03 L333.90,164.70 L334.65,163.85 L335.40,164.76 L336.15,163.98 L336.90,164.84 L337.65,163.10 L338.40,164.89 L339.15,165.14 L339.90,163.58 L340.65,165.36 L341.40,164.05 L342.15,165.61 L342.90,165.00 L343.65,165.56 L344.40,165.42 L345.15,164.39 L345.90,166.40 L346.65,166.24 L347.40,164.76 L348.15,165.95 L348.90,165.96 L349.65,165.24 L350.40,165.07 L351.15,166.77 L351.90,165.68 L352.65,166.68 L353.40,167.46 L354.15,166.55 L354.90,165.68 L355.65,167.08 L356.40,165.52 L357.15,165.94 L357.90,168.72 L358.65,166.20 L359.40,167.10 L360.15,166.20 L360.90,166.95 L361.65,167.27 L362.40,165.37 L363.15,166.85 L363.90,167.87 L364.65,168.10 L365.40,167.82 L366.15,167.01 L366.90,168.03 L367.65,167.50 L368.40,167.39 L369.15,168.01 L369.90,169.69 L370.65,167.54 L371.40,168.98 L372.15,168.50 L372.90,167.36 L373.65,167.84 L374.40,168.43 L375.15,168.29 L375.90,168.88 L376.65,168.07 L377.40,168.13 L378.15,169.61 L378.90,168.96 L379.65,168.45 L380.40,169.12 L381.15,170.47 L381.90,168.85 L382.65,168.28 L383.40,170.04 L384.15,170.83 L384.90,170.40 L385.65,168.66 L386.40,168.20 L387.15,170.59 L387.90,169.64 L388.65,170.18 L389.40,169.75 L390.15,171.12 L390.90,170.05 L391.65,169.84 L392.40,170.22 L393.15,169.34 L393.90,170.35 L394.65,170.23 L395.40,168.87 L396.15,169.60 L396.90,169.58 L397.65,169.41 L398.40,170.82 L399.15,171.41 L399.90,170.91 L400.65,169.70 L401.40,169.54 L402.15,171.39 L402.90,170.68 L403.65,170.88 L404.40,170.09 L405.15,169.63 L405.90,172.65 L406.65,170.73 L407.40,171.07 L408.15,170.45 L408.90,172.38 L409.65,171.11 L410.40,171.29 L411.15,171.48 L411.90,171.49 L412.65,172.54 L413.40,170.32 L414.15,172.08 L414.90,171.25 L415.65,171.44 L416.40,171.34 L417.15,172.12 L417.90,170.97 L418.65,171.53 L419.40,172.34" stroke="#ee82ee" stroke-width="3.8"/>
<path d="M99.70,29.92 L100.45,65.31 L101.20,72.19 L101.95,77.18 L102.70,81.91 L103.45,86.78 L104.20,91.34 L104.95,96.55 L105.70,100.17 L106.45,102.34 L107.20,104.36 L107.95,105.54 L108.70,106.88 L109.45,108.33 L110.20,110.05 L110.95,111.76 L111.70,113.49 L112.45,114.71 L113.20,115.82 L113.95,116.56 L114.70,117.44 L115.45,118.33 L116.20,118.84 L116.95,119.59 L117.70,120.32 L118.45,121.14 L119.20,121.86 L119.95,122.66 L120.70,123.50 L121.45,124.39 L122.20,125.16 L122.95,125.79 L123.70,126.65 L124.45,127.17 L125.20,128.35 L125.95,129.09 L126.70,129.37 L127.45,130.05 L128.20,130.56 L128.95,131.19 L129.70,131.51 L130.45,131.89 L131.20,132.71 L131.95,132.94 L132.70,133.63 L133.45,133.93 L134.20,134.42 L134.95,135.11 L135.70,135.64 L136.45,135.82 L137.20,136.20 L137.95,136.70 L138.70,136.98 L139.45,137.20 L140.20,137.80 L140.95,137.86 L141.70,138.59 L142.45,138.82 L143.20,139.28 L143.95,139.41 L144.70,139.86 L145.45,140.39 L146.20,140.85 L146.95,141.11 L147.70,141.37 L148.45,141.47 L149.20,142.01 L149.95,142.22 L150.70,142.42 L151.45,142.90 L152.20,142.80 L152.95,143.40 L153.70,143.20 L154.45,143.36 L155.20,143.62 L155.95,143.58 L156.70,143.88 L157.45,144.14 L158.20,144.01 L158.95,144.35 L159.70,144.46 L160.45,144.86 L161.20,145.37 L161.95,145.30 L162.70,145.57 L163.45,145.89 L164.20,145.87 L164.95,146.40 L165.70,146.52 L166.45,146.79 L167.20,146.89 L167.95,147.46 L168.70,148.19 L169.45,148.63 L170.20,148.75 L170.95,149.48 L171.70,150.18 L172.45,150.91 L173.20,151.58 L173.95,153.08 L174.70,152.97 L175.45,153.78 L176.20,154.59 L176.95,154.50 L177.70,154.79 L178.45,154.94 L179.20,154.64 L179.95,154.55 L180.70,154.14 L181.45,154.33 L182.20,154.14 L182.95,154.03 L183.70,154.58 L184.45,155.35 L185.20,155.70 L185.95,155.58 L186.70,155.65 L187.45,154.59 L188.20,153.98 L188.95,153.52 L189.70,152.42 L190.45,152.92 L191.20,153.21 L191.95,154.10 L192.70,154.22 L193.45,155.16 L194.20,155.88 L194.95,155.73 L195.70,155.02 L196.45,155.22 L197.20,154.34 L197.95,154.31 L198.70,153.87 L199.45,154.60 L200.20,154.26 L200.95,154.25 L201.70,154.96 L202.45,155.41 L203.20,155.10 L203.95,156.09 L204.70,156.46 L205.45,155.87 L206.20,154.87 L206.95,154.98 L207.70,154.47 L208.45,152.86 L209.20,152.53 L209.95,150.36 L210.70,148.98 L211.45,148.13 L212.20,146.46 L212.95,146.18 L213.70,145.97 L214.45,146.80 L215.20,147.36 L215.95,147.79 L216.70,147.27 L217.45,145.59 L218.20,143.52 L218.95,143.01 L219.70,142.87 L220.45,144.34 L221.20,145.19 L221.95,145.61 L222.70,145.21 L223.45,144.94 L224.20,145.31 L224.95,145.31 L225.70,146.51 L226.45,146.98 L227.20,147.52 L227.95,147.61 L228.70,147.25 L229.45,148.47 L230.20,148.71 L230.95,149.06 L231.70,149.74 L232.45,149.06 L233.20,149.51 L233.95,145.96 L234.70,136.55 L235.45,131.67 L236.20,131.74 L236.95,133.37 L237.70,133.49 L238.45,135.45 L239.20,136.38 L239.95,137.35 L240.70,138.25 L241.45,139.24 L242.20,139.68 L242.95,140.12 L243.70,140.83 L244.45,141.15 L245.20,141.19 L245.95,141.12 L246.70,142.71 L247.45,142.76 L248.20,144.32 L248.95,143.62 L249.70,143.48 L250.45,144.50 L251.20,143.03 L251.95,142.08 L252.70,143.13 L253.45,141.85 L254.20,143.76 L254.95,143.13 L255.70,144.62 L256.45,145.55 L257.20,145.57 L257.95,147.62 L258.70,148.14 L259.45,149.49 L260.20,159.99 L260.95,165.20 L261.70,166.10 L262.45,167.19 L263.20,169.14 L263.95,168.92 L264.70,169.49 L265.45,168.80 L266.20,169.41 L266.95,170.39 L267.70,171.08 L268.45,171.89 L269.20,173.53 L269.95,171.70 L270.70,172.47 L271.45,173.28 L272.20,173.28 L272.95,173.92 L273.70,173.31 L274.45,173.15 L275.20,175.02 L275.95,174.40 L276.70,173.97 L277.45,175.09 L278.20,175.99 L278.95,175.95 L279.70,177.88 L280.45,178.06 L281.20,178.09 L281.95,178.17 L282.70,179.65 L283.45,178.89 L284.20,178.67 L284.95,178.12 L285.70,178.79 L286.45,179.87 L287.20,180.41 L287.95,179.04 L288.70,178.62 L289.45,179.82 L290.20,179.83 L290.95,180.39 L291.70,179.59 L292.45,180.13 L293.20,179.15 L293.95,179.67 L294.70,180.30 L295.45,180.69 L296.20,181.61 L296.95,182.42 L297.70,181.42 L298.45,183.61 L299.20,182.74 L299.95,183.46 L300.70,185.03 L301.45,183.87 L302.20,185.06 L302.95,185.84 L303.70,186.41 L304.45,186.81 L305.20,186.57 L305.95,185.20 L306.70,185.89 L307.45,185.15 L308.20,186.23 L308.95,185.34 L309.70,186.20 L310.45,185.20 L311.20,186.36 L311.95,185.34 L312.70,186.30 L313.45,185.46 L314.20,186.36 L314.95,186.07 L315.70,186.03 L316.45,186.76 L317.20,187.11 L317.95,186.79 L318.70,186.95 L319.45,187.24 L320.20,187.58 L320.95,187.52 L321.70,187.23 L322.45,188.15 L323.20,186.81 L323.95,187.58 L324.70,186.56 L325.45,188.57 L326.20,187.19 L326.95,187.52 L327.70,188.31 L328.45,187.60 L329.20,188.19 L329.95,189.09 L330.70,190.75 L331.45,192.39 L332.20,191.63 L332.95,192.70 L333.70,192.38 L334.45,191.85 L335.20,191.51 L335.95,192.41 L336.70,193.17 L337.45,193.02 L338.20,193.60 L338.95,194.36 L339.70,194.68 L340.45,198.18 L341.20,200.65 L341.95,202.09 L342.70,201.99 L343.45,202.32 L344.20,202.70 L344.95,203.44 L345.70,203.78 L346.45,204.07 L347.20,203.62 L347.95,204.52 L348.70,204.33 L349.45,204.30 L350.20,203.94 L350.95,204.46 L351.70,204.84 L352.45,205.35 L353.20,205.58 L353.95,205.45 L354.70,205.63 L355.45,204.95 L356.20,206.07 L356.95,206.14 L357.70,206.13 L358.45,205.54 L359.20,205.83 L359.95,205.69 L360.70,205.29 L361.45,205.90 L362.20,205.32 L362.95,205.29 L363.70,206.66 L364.45,206.75 L365.20,207.00 L365.95,206.39 L366.70,206.74 L367.45,207.10 L368.20,206.69 L368.95,205.85 L369.70,208.28 L370.45,207.79 L371.20,207.85 L371.95,207.26 L372.70,206.81 L373.45,207.33 L374.20,207.47 L374.95,206.59 L375.70,207.11 L376.45,207.71 L377.20,208.26 L377.95,207.79 L378.70,207.26 L379.45,206.80 L380.20,208.65 L380.95,207.63 L381.70,208.02 L382.45,207.65 L383.20,206.94 L383.95,208.91 L384.70,208.12 L385.45,208.47 L386.20,207.40 L386.95,207.86 L387.70,208.67 L388.45,207.77 L389.20,207.61 L389.95,207.43 L390.70,207.35 L391.45,208.60 L392.20,208.15 L392.95,207.23 L393.70,209.10 L394.45,209.00 L395.20,208.96 L395.95,207.34 L396.70,208.45 L397.45,209.13 L398.20,207.87 L398.95,208.03 L399.70,208.36 L400.45,207.41 L401.20,208.67 L401.95,209.12 L402.70,208.96 L403.45,209.44 L404.20,208.70 L404.95,208.65 L405.70,208.59 L406.45,208.33 L407.20,208.14 L407.95,208.35 L408.70,208.73 L409.45,208.50 L410.20,208.88 L410.95,208.88 L411.70,209.21 L412.45,208.59 L413.20,207.75 L413.95,208.37 L414.70,209.97 L415.45,209.35 L416.20,208.72 L416.95,208.85 L417.70,208.92 L418.45,208.72 L419.20,209.10" stroke="#0000ff" stroke-width="3.5"/>
<path d="M103.45,86.78 L104.20,91.34 L104.95,96.55 L105.70,100.17 L106.45,102.34 L107.20,104.36 L107.95,105.54 L108.70,106.88 L109.45,108.33 L110.20,110.05 L110.95,111.76 L111.70,113.49 L112.45,114.71 L113.20,115.82 L113.95,116.56 L114.70,117.44 L115.45,118.33 L116.20,118.84 L116.95,119.59 L117.70,120.32 L118.45,121.14 L119.20,121.86 L119.95,122.66 L120.70,123.50 L121.45,124.39 L122.20,125.16 L122.95,125.79 L123.70,126.65 L124.45,127.17 L125.20,128.35 L125.95,129.09 L126.70,129.37 L127.45,130.05 L128.20,130.56 L128.95,131.19 L129.70,131.51 L130.45,131.89 L131.20,132.71 L131.95,132.94 L132.70,133.63 L133.45,133.93 L134.20,134.42 L134.95,135.11 L135.70,135.64 L136.45,135.82 L137.20,136.20 L137.95,136.70 L138.70,136.98 L139.45,137.20" stroke="#0000ff" stroke-width="4.4"/>
<path d="M99.95,30.05 L100.70,55.48 L101.45,60.51 L102.20,64.86 L102.95,68.40 L103.70,71.93 L104.45,75.54 L105.20,78.63 L105.95,81.47 L106.70,83.60 L107.45,85.66 L108.20,87.33 L108.95,89.03 L109.70,90.56 L110.45,92.04 L111.20,93.23 L111.95,94.70 L112.70,95.74 L113.45,97.04 L114.20,98.18 L114.95,99.16 L115.70,100.19 L116.45,101.19 L117.20,102.15 L117.95,103.11 L118.70,104.05 L119.45,104.86 L120.20,105.71 L120.95,106.35 L121.70,107.00 L122.45,107.66 L123.20,108.23 L123.95,108.91 L124.70,109.49 L125.45,110.26 L126.20,110.76 L126.95,111.43 L127.70,111.72 L128.45,112.44 L129.20,113.03 L129.95,113.50 L130.70,113.93 L131.45,114.46 L132.20,114.92 L132.95,115.37 L133.70,115.83 L134.45,116.33 L135.20,116.72 L135.95,117.16 L136.70,117.57 L137.45,118.03 L138.20,118.35 L138.95,118.83 L139.70,119.12 L140.45,119.56 L141.20,119.80 L141.95,120.17 L142.70,120.49 L143.45,120.74 L144.20,121.21 L144.95,121.47 L145.70,121.75 L146.45,122.13 L147.20,122.32 L147.95,122.64 L148.70,123.02 L149.45,123.42 L150.20,123.53 L150.95,123.95 L151.70,124.13 L152.45,124.34 L153.20,124.74 L153.95,125.09 L154.70,125.28 L155.45,125.58 L156.20,125.72 L156.95,125.88 L157.70,126.38 L158.45,126.48 L159.20,126.87 L159.95,127.06 L160.70,127.39 L161.45,127.71 L162.20,127.70 L162.95,128.10 L163.70,128.33 L164.45,128.73 L165.20,128.82 L165.95,128.94 L166.70,129.18 L167.45,129.66 L168.20,129.55 L168.95,129.85 L169.70,130.06 L170.45,130.08 L171.20,130.29 L171.95,130.33 L172.70,130.63 L173.45,130.99 L174.20,131.11 L174.95,131.00 L175.70,131.59 L176.45,131.39 L177.20,131.59 L177.95,132.09 L178.70,132.09 L179.45,132.17 L180.20,132.54 L180.95,132.47 L181.70,132.68 L182.45,132.70 L183.20,132.91 L183.95,133.07 L184.70,133.39 L185.45,133.28 L186.20,133.49 L186.95,133.34 L187.70,133.56 L188.45,134.09 L189.20,134.07 L189.95,134.23 L190.70,134.54 L191.45,134.54 L192.20,134.77 L192.95,134.87 L193.70,134.74 L194.45,135.33 L195.20,135.64 L195.95,135.75 L196.70,135.72 L197.45,135.91 L198.20,136.09 L198.95,136.45 L199.70,136.55 L200.45,136.43 L201.20,136.62 L201.95,136.77 L202.70,136.85 L203.45,137.00 L204.20,137.24 L204.95,136.96 L205.70,137.64 L206.45,137.63 L207.20,137.63 L207.95,137.98 L208.70,138.01 L209.45,138.54 L210.20,138.23 L210.95,138.61 L211.70,138.80 L212.45,138.71 L213.20,138.76 L213.95,139.23 L214.70,139.21 L215.45,139.23 L216.20,139.26 L216.95,139.83 L217.70,140.16 L218.45,139.86 L219.20,140.22 L219.95,140.48 L220.70,140.59 L221.45,140.38 L222.20,140.76 L222.95,140.92 L223.70,141.47 L224.45,141.08 L225.20,141.40 L225.95,141.48 L226.70,141.57 L227.45,141.32 L228.20,141.74 L228.95,142.15 L229.70,141.83 L230.45,142.10 L231.20,141.98 L231.95,142.35 L232.70,142.49 L233.45,142.70 L234.20,142.55 L234.95,142.66 L235.70,142.74 L236.45,143.06 L237.20,143.16 L237.95,143.79 L238.70,143.18 L239.45,143.63 L240.20,143.43 L240.95,143.56 L241.70,144.06 L242.45,144.01 L243.20,144.15 L243.95,143.77 L244.70,144.91 L245.45,144.89 L246.20,144.26 L246.95,144.20 L247.70,144.48 L248.45,144.84 L249.20,144.64 L249.95,145.07 L250.70,144.93 L251.45,145.97 L252.20,145.26 L252.95,145.31 L253.70,146.11 L254.45,145.75 L255.20,145.77 L255.95,145.86 L256.70,146.14 L257.45,145.97 L258.20,146.23 L258.95,146.14 L259.70,146.01 L260.45,146.40 L261.20,146.64 L261.95,147.15 L262.70,146.85 L263.45,146.78 L264.20,147.01 L264.95,147.24 L265.70,146.51 L266.45,147.13 L267.20,146.72 L267.95,146.92 L268.70,147.31 L269.45,147.57 L270.20,147.71 L270.95,147.82 L271.70,148.25 L272.45,148.09 L273.20,148.16 L273.95,148.04 L274.70,148.78 L275.45,148.68 L276.20,148.22 L276.95,148.30 L277.70,148.78 L278.45,148.93 L279.20,148.63 L279.95,149.13 L280.70,148.54 L281.45,148.92 L282.20,149.35 L282.95,148.97 L283.70,149.26 L284.45,149.29 L285.20,149.30 L285.95,148.91 L286.70,149.44 L287.45,149.66 L288.20,149.75 L288.95,149.99 L289.70,150.12 L290.45,149.82 L291.20,149.94 L291.95,150.57 L292.70,150.41 L293.45,150.24 L294.20,150.25 L294.95,150.69 L295.70,150.77 L296.45,150.51 L297.20,150.74 L297.95,150.69 L298.70,150.75 L299.45,151.37 L300.20,150.53 L300.95,151.20 L301.70,150.74 L302.45,150.92 L303.20,151.44 L303.95,150.88 L304.70,151.06 L305.45,151.08 L306.20,151.31 L306.95,151.64 L307.70,151.96 L308.45,151.50 L309.20,152.03 L309.95,151.48 L310.70,152.52 L311.45,151.84 L312.20,151.90 L312.95,152.18 L313.70,152.20 L314.45,152.19 L315.20,151.80 L315.95,152.61 L316.70,152.64 L317.45,152.37 L318.20,152.21 L318.95,152.69 L319.70,153.00 L320.45,152.22 L321.20,152.46 L321.95,152.88 L322.70,152.67 L323.45,152.86 L324.20,152.99 L324.95,153.30 L325.70,153.36 L326.45,153.47 L327.20,153.50 L327.95,153.11 L328.70,152.64 L329.45,153.49 L330.20,153.58 L330.95,153.63 L331.70,153.35 L332.45,154.16 L333.20,153.16 L333.95,153.94 L334.70,153.94 L335.45,154.07 L336.20,154.26 L336.95,154.05 L337.70,154.05 L338.45,153.92 L339.20,154.28 L339.95,154.22 L340.70,154.39 L341.45,153.87 L342.20,153.80 L342.95,154.32 L343.70,154.50 L344.45,153.95 L345.20,154.15 L345.95,154.39 L346.70,154.63 L347.45,154.69 L348.20,154.94 L348.95,154.65 L349.70,154.88 L350.45,155.18 L351.20,154.78 L351.95,155.57 L352.70,154.85 L353.45,155.05 L354.20,154.52 L354.95,155.10 L355.70,155.02 L356.45,155.05 L357.20,155.38 L357.95,155.02 L358.70,155.47 L359.45,154.87 L360.20,155.37 L360.95,155.97 L361.70,155.66 L362.45,155.86 L363.20,155.47 L363.95,155.41 L364.70,156.26 L365.45,156.21 L366.20,156.22 L366.95,156.03 L367.70,156.43 L368.45,156.02 L369.20,156.41 L369.95,156.45 L370.70,156.06 L371.45,156.80 L372.20,156.48 L372.95,156.74 L373.70,156.13 L374.45,156.28 L375.20,156.57 L375.95,156.90 L376.70,157.16 L377.45,156.99 L378.20,156.91 L378.95,157.19 L379.70,157.02 L380.45,157.21 L381.20,157.34 L381.95,157.10 L382.70,157.49 L383.45,157.02 L384.20,157.28 L384.95,157.79 L385.70,157.48 L386.45,157.88 L387.20,157.88 L387.95,157.83 L388.70,158.40 L389.45,158.17 L390.20,157.93 L390.95,158.03 L391.70,158.28 L392.45,157.88 L393.20,158.72 L393.95,158.43 L394.70,158.02 L395.45,158.29 L396.20,159.06 L396.95,158.77 L397.70,159.40 L398.45,158.83 L399.20,159.02 L399.95,159.51 L400.70,159.62 L401.45,158.78 L402.20,159.37 L402.95,158.86 L403.70,159.09 L404.45,158.77 L405.20,159.51 L405.95,159.09 L406.70,159.22 L407.45,160.06 L408.20,159.81 L408.95,159.55 L409.70,159.13 L410.45,159.80 L411.20,159.08 L411.95,159.54 L412.70,160.05 L413.45,160.14 L414.20,160.00 L414.95,160.24 L415.70,160.10 L416.45,159.87 L417.20,160.15 L417.95,160.69 L418.70,160.22 L419.45,160.36" stroke="#ffa500" stroke-width="3.6"/>
</g>
<path d="M84.3,288.4 V35.6 H435.4" stroke="#7a7a7a" stroke-width="1" fill="none"/>
<path d="M83.8,288.4 H435.4 V35.1" stroke="#3c3c3c" stroke-width="1.1" fill="none"/>
</svg>
<div id="txt"><div class="t" style="left:259.6px;top:1.4px;font-size:19.9px;transform:translateX(-50%);color:#000">training loss CIFAR-100 ResNet-20</div>
<div class="t" style="left:259.6px;top:316.4px;font-size:20px;transform:translateX(-50%);color:#000">epochs</div>
<div class="t" style="left:10.7px;top:161.6px;font-size:20.1px;transform:translate(-50%,-50%) rotate(-90deg);color:#000">training loss</div>
<div class="t xl" style="left:99.9px">0</div>
<div class="t xl" style="left:174.8px">100</div>
<div class="t xl" style="left:249.6px">200</div>
<div class="t xl" style="left:324.5px">300</div>
<div class="t xl" style="left:399.4px">400</div>
<div class="t yl" style="right:365.1px;top:45.0px">10<sup>0.7</sup></div>
<div class="t yl" style="right:363.8px;top:142.5px">10<sup>0</sup></div>
<div class="t yl" style="right:363.8px;top:184.3px">10<sup><i>−</i>0.3</sup></div>
<div class="t yl" style="right:363.4px;top:281.8px">10<sup><i>−</i>1</sup></div></div></div></body></html>
